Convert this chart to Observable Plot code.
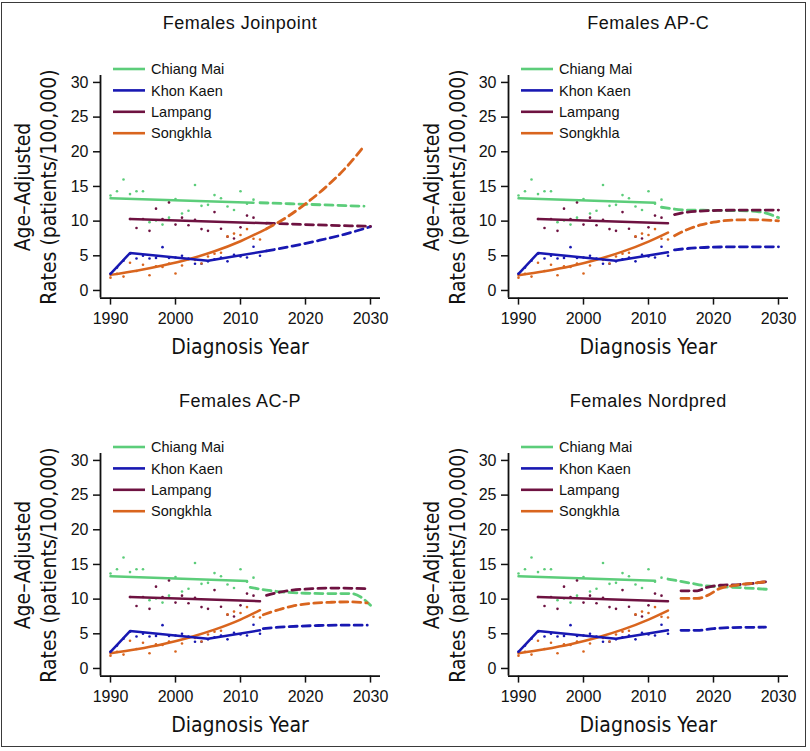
<!DOCTYPE html>
<html><head><meta charset="utf-8">
<script src="https://cdn.jsdelivr.net/npm/d3@7"></script>
<script src="https://cdn.jsdelivr.net/npm/@observablehq/plot@0.6"></script>
<style>
body{margin:0;background:#fff;}
#wrap{position:relative;width:810px;height:751px;overflow:hidden;background:#fff;}
.border{position:absolute;left:1px;top:2px;width:805px;height:745px;border:1.5px solid #3a3a3a;box-sizing:border-box;}
.panel{position:absolute;width:400px;height:372px;}
.panel svg{position:absolute;left:0;top:0;}
.ptitle{position:absolute;left:120px;width:240px;top:12px;text-align:center;font-family:"Liberation Sans",Arial,sans-serif;font-size:18px;letter-spacing:0.5px;line-height:22px;color:#111;white-space:nowrap;}
.xtitle{position:absolute;left:140px;width:200px;top:334px;text-align:center;font-family:"Liberation Sans Narrow","Arial Narrow","DejaVu Sans Condensed",sans-serif;font-size:21px;line-height:26px;color:#111;white-space:nowrap;}
.ytitle{position:absolute;left:-93.6px;top:160.5px;width:260px;height:52px;transform:rotate(-90deg);transform-origin:center center;text-align:center;font-family:"Liberation Sans Narrow","Arial Narrow","DejaVu Sans Condensed",sans-serif;font-size:21px;line-height:26px;color:#111;white-space:nowrap;}
.legend{position:absolute;left:0;top:0;}
</style></head><body><div id="wrap"><div class="border"></div></div>
<script>
// ---------- labels ----------
const sites = ["Chiang Mai", "Khon Kaen", "Lampang", "Songkhla"];
const siteColors = ["#5ccd7a", "#1818b2", "#6e1241", "#d9651e"];
const panelTitles = ["Females Joinpoint", "Females AP-C", "Females AC-P", "Females Nordpred"];
const xTickValues = [1990, 2000, 2010, 2020, 2030];
const yTickValues = [0, 5, 10, 15, 20, 25, 30];
const xAxisTitle = "Diagnosis Year";
const yAxisTitleLines = ["Age\u2013Adjusted", "Rates (patients/100,000)"];

// ---------- observed rates ----------
const chiangMaiYears = [1990,1991,1992,1993,1994,1995,1996,1997,1998,1999,2000,2001,2002,2003,2004,2005,2006,2007,2008,2009,2010,2011,2012];
const chiangMaiRates = [13.7,14.3,16.0,13.9,14.3,14.3,9.85,10.1,9.5,10.5,13.2,11.1,11.5,15.2,12.2,12.35,13.75,13.3,12.1,11.6,14.3,12.5,13.1];
const khonKaenYears = [1990,1991,1992,1993,1994,1995,1996,1997,1998,1999,2000,2001,2002,2003,2004,2005,2006,2007,2008,2009,2010,2011,2012,2013];
const khonKaenRates = [2.4,3.3,4.3,5.3,4.6,5.0,4.6,4.7,6.25,4.7,4.75,5.0,4.6,3.85,3.85,4.2,4.5,4.75,4.2,5.15,4.9,4.75,6.3,5.0];
const lampangYears = [1993,1994,1995,1996,1997,1998,1999,2000,2001,2002,2003,2004,2005,2006,2007,2008,2009,2010,2011,2012];
const lampangRates = [10.3,9.0,10.3,8.6,11.8,10.3,12.7,9.5,10.5,9.4,10.2,8.85,8.6,11.3,8.9,7.75,7.5,9.1,10.8,10.5];
const songkhlaYears = [1990,1991,1992,1993,1994,1995,1996,1997,1998,1999,2000,2001,2002,2003,2004,2005,2006,2007,2008,2009,2010,2011,2012,2013];
const songkhlaRates = [1.85,2.4,2.0,4.0,2.8,3.7,2.2,3.5,3.4,3.9,2.45,3.6,4.5,4.4,3.9,4.9,5.3,5.45,7.8,8.2,8.0,8.85,7.45,7.35];

// ---------- fitted (solid) and projected (dashed) curves: [site, year, rate] ----------
const joinpointFit = [
  ["Chiang Mai",1990,13.3],["Chiang Mai",2012,12.65],
  ["Khon Kaen",1990,2.4],["Khon Kaen",1993,5.4],["Khon Kaen",2005,4.3],["Khon Kaen",2014,5.7],
  ["Lampang",1993,10.3],["Lampang",2014,9.7],
  ["Songkhla",1990,2.25],["Songkhla",1994,2.85],["Songkhla",1998,3.6],["Songkhla",2002,4.5],["Songkhla",2006,5.65],["Songkhla",2010,7.1],["Songkhla",2014,8.9]
];
const joinpointProjection = [
  ["Chiang Mai",2013,12.65],["Chiang Mai",2021,12.4],["Chiang Mai",2029,12.15],
  ["Khon Kaen",2014,5.7],["Khon Kaen",2018,6.4],["Khon Kaen",2022,7.2],["Khon Kaen",2026,8.1],["Khon Kaen",2030,9.2],
  ["Lampang",2014,9.7],["Lampang",2022,9.45],["Lampang",2030,9.25],
  ["Songkhla",2014,8.9],["Songkhla",2017,10.5],["Songkhla",2020,12.5],["Songkhla",2023,14.8],["Songkhla",2026,17.5],["Songkhla",2029,20.8]
];
const apcFit = [
  ["Chiang Mai",1990,13.3],["Chiang Mai",2011,12.65],
  ["Khon Kaen",1990,2.4],["Khon Kaen",1993,5.4],["Khon Kaen",2005,4.3],["Khon Kaen",2013,5.5],
  ["Lampang",1993,10.3],["Lampang",2013,9.7],
  ["Songkhla",1990,2.2],["Songkhla",1994,2.78],["Songkhla",1998,3.5],["Songkhla",2002,4.44],["Songkhla",2006,5.6],["Songkhla",2010,7.05],["Songkhla",2013,8.35]
];
const apcProjection = [
  ["Chiang Mai",2012,12.0],["Chiang Mai",2016,11.6],["Chiang Mai",2020,11.55],["Chiang Mai",2024,11.5],["Chiang Mai",2027,11.35],["Chiang Mai",2030,10.5],
  ["Khon Kaen",2014,5.85],["Khon Kaen",2016,6.05],["Khon Kaen",2018,6.18],["Khon Kaen",2021,6.27],["Khon Kaen",2025,6.3],["Khon Kaen",2030,6.3],
  ["Lampang",2014,10.95],["Lampang",2016,11.3],["Lampang",2018,11.45],["Lampang",2021,11.55],["Lampang",2025,11.6],["Lampang",2030,11.6],
  ["Songkhla",2014,7.9],["Songkhla",2016,8.8],["Songkhla",2018,9.45],["Songkhla",2020,9.85],["Songkhla",2023,10.15],["Songkhla",2026,10.2],["Songkhla",2030,10.05]
];
const acpFit = [
  ["Chiang Mai",1990,13.3],["Chiang Mai",2011,12.6],
  ["Khon Kaen",1990,2.4],["Khon Kaen",1993,5.4],["Khon Kaen",2005,4.3],["Khon Kaen",2013,5.5],
  ["Lampang",1993,10.3],["Lampang",2013,9.7],
  ["Songkhla",1990,2.2],["Songkhla",1994,2.78],["Songkhla",1998,3.5],["Songkhla",2002,4.44],["Songkhla",2006,5.6],["Songkhla",2010,7.05],["Songkhla",2013,8.4]
];
const acpProjection = [
  ["Chiang Mai",2011.5,11.7],["Chiang Mai",2014,11.3],["Chiang Mai",2017,11.0],["Chiang Mai",2020,10.85],["Chiang Mai",2024,10.8],["Chiang Mai",2027,10.8],["Chiang Mai",2028.5,10.3],["Chiang Mai",2030,9.1],
  ["Khon Kaen",2013.5,5.75],["Khon Kaen",2016,5.95],["Khon Kaen",2019,6.1],["Khon Kaen",2022,6.2],["Khon Kaen",2025,6.24],["Khon Kaen",2029.5,6.24],
  ["Lampang",2014,10.55],["Lampang",2016,11.0],["Lampang",2018,11.3],["Lampang",2021,11.5],["Lampang",2024,11.6],["Lampang",2029.5,11.5],
  ["Songkhla",2013.5,7.75],["Songkhla",2016,8.5],["Songkhla",2018,9.0],["Songkhla",2021,9.4],["Songkhla",2024,9.55],["Songkhla",2027,9.6],["Songkhla",2029.5,9.45]
];
const nordpredFit = [
  ["Chiang Mai",1990,13.3],["Chiang Mai",2011,12.65],
  ["Khon Kaen",1990,2.4],["Khon Kaen",1993,5.4],["Khon Kaen",2005,4.3],["Khon Kaen",2013,5.5],
  ["Lampang",1993,10.3],["Lampang",2013,9.7],
  ["Songkhla",1990,2.2],["Songkhla",1994,2.78],["Songkhla",1998,3.5],["Songkhla",2002,4.44],["Songkhla",2006,5.6],["Songkhla",2010,7.05],["Songkhla",2013,8.35]
];
const nordpredProjection = [
  ["Chiang Mai",2013,12.9],["Chiang Mai",2016.5,12.3],["Chiang Mai",2019,11.9],["Chiang Mai",2022,11.75],["Chiang Mai",2025,11.6],["Chiang Mai",2028.5,11.4],
  ["Khon Kaen",2015,5.5],["Khon Kaen",2017.5,5.5],["Khon Kaen",2020,5.75],["Khon Kaen",2023,5.9],["Khon Kaen",2028,5.95],
  ["Lampang",2015,11.2],["Lampang",2017.5,11.2],["Lampang",2019,11.7],["Lampang",2021,12.0],["Lampang",2024,12.1],["Lampang",2028,12.5],
  ["Songkhla",2015,10.1],["Songkhla",2017.5,10.1],["Songkhla",2019,10.5],["Songkhla",2021,11.55],["Songkhla",2023,11.95],["Songkhla",2026,12.3],["Songkhla",2028,12.5]
];

// ---------- build ----------
const observed = [
  ...chiangMaiYears.map((y,i)=>({site:"Chiang Mai",year:y,rate:chiangMaiRates[i]})),
  ...khonKaenYears.map((y,i)=>({site:"Khon Kaen",year:y,rate:khonKaenRates[i]})),
  ...lampangYears.map((y,i)=>({site:"Lampang",year:y,rate:lampangRates[i]})),
  ...songkhlaYears.map((y,i)=>({site:"Songkhla",year:y,rate:songkhlaRates[i]}))
];
const toRows = arr => arr.map(([site,year,rate])=>({site,year,rate}));
const panels = [
  {title: panelTitles[0], fit: toRows(joinpointFit), proj: toRows(joinpointProjection), left: 0, top: 0},
  {title: panelTitles[1], fit: toRows(apcFit), proj: toRows(apcProjection), left: 408.3, top: 0},
  {title: panelTitles[2], fit: toRows(acpFit), proj: toRows(acpProjection), left: 0, top: 378},
  {title: panelTitles[3], fit: toRows(nordpredFit), proj: toRows(nordpredProjection), left: 408.3, top: 378}
];

const xDomain = [1988.4615, 2031.5385];
const yDomain = [-1.1, 31.0];
const tickFont = '"Liberation Sans", Arial, sans-serif';
const wrap = document.getElementById("wrap");

for (const p of panels) {
  const div = document.createElement("div");
  div.className = "panel";
  div.style.left = p.left + "px";
  div.style.top = p.top + "px";
  const chart = Plot.plot({
    width: 400, height: 372,
    marginLeft: 100, marginRight: 20, marginTop: 75, marginBottom: 74.4,
    x: {domain: xDomain},
    y: {domain: yDomain},
    color: {domain: sites, range: siteColors},
    style: {fontFamily: tickFont, fontSize: "16px", color: "#111", background: "transparent"},
    marks: [
      Plot.dot(observed, {x: "year", y: "rate", fill: "site", r: 1.3, stroke: null}),
      Plot.line(p.fit.filter(d => d.site !== "Khon Kaen"), {x: "year", y: "rate", z: "site", stroke: "site", strokeWidth: 2.5, curve: "monotone-x"}),
      Plot.line(p.fit.filter(d => d.site === "Khon Kaen"), {x: "year", y: "rate", z: "site", stroke: "site", strokeWidth: 2.5, curve: "linear"}),
      Plot.line(p.proj, {x: "year", y: "rate", z: "site", stroke: "site", strokeWidth: 2.8, strokeDasharray: "8,5", curve: "monotone-x"}),
      Plot.ruleY([yDomain[0]], {stroke: "#111", strokeWidth: 1.8}),
      Plot.ruleX([xDomain[0]], {stroke: "#111", strokeWidth: 1.8}),
      Plot.axisX({ticks: xTickValues, tickFormat: "d", tickSize: 7, tickPadding: 8, strokeWidth: 1.5, fontSize: 16, label: null}),
      Plot.axisY({ticks: yTickValues, tickSize: 7, tickPadding: 5, strokeWidth: 1.5, fontSize: 16, label: null})
    ]
  });
  div.appendChild(chart);

  const t = document.createElement("div");
  t.className = "ptitle"; t.textContent = p.title; div.appendChild(t);
  const xt = document.createElement("div");
  xt.className = "xtitle"; xt.textContent = xAxisTitle; div.appendChild(xt);
  const yt = document.createElement("div");
  yt.className = "ytitle"; yt.innerHTML = yAxisTitleLines.join("<br>"); div.appendChild(yt);

  // legend
  const lg = d3.create("svg").attr("class", "legend").attr("width", 400).attr("height", 160);
  sites.forEach((s, i) => {
    const cy = 69 + i * 21.4;
    lg.append("line").attr("x1", 113).attr("x2", 145).attr("y1", cy).attr("y2", cy)
      .attr("stroke", siteColors[i]).attr("stroke-width", 2.6);
    lg.append("text").attr("x", 151).attr("y", cy + 5.2).text(s)
      .attr("font-family", tickFont).attr("font-size", 14.5).attr("fill", "#111");
  });
  div.appendChild(lg.node());
  wrap.appendChild(div);
}
</script>
</body></html>
